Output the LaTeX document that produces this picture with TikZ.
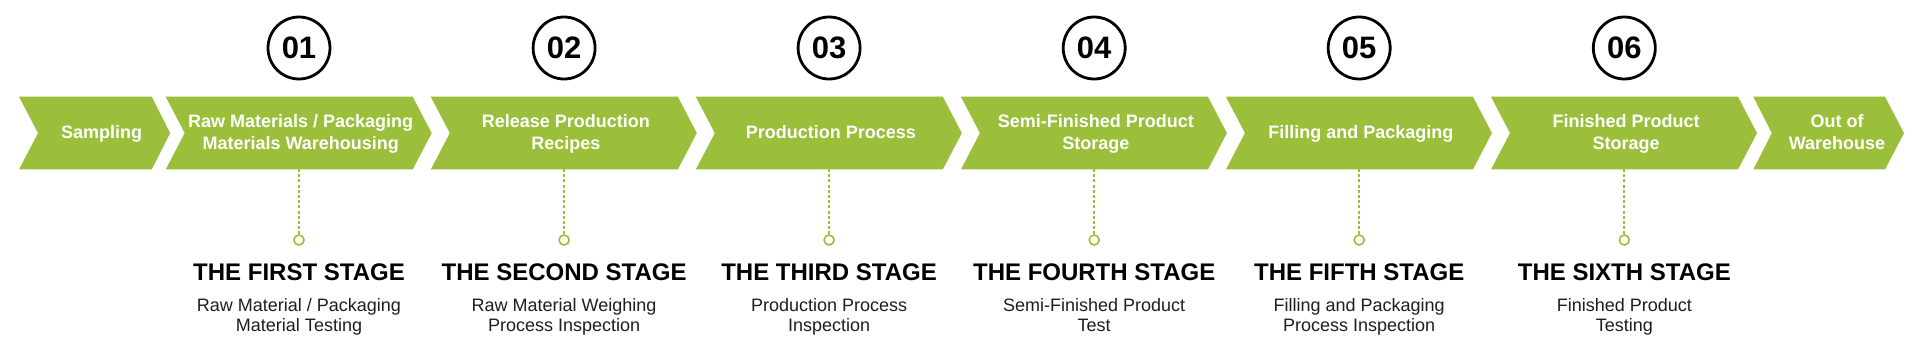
\documentclass[tikz,border=0pt]{standalone}
\usepackage{fontspec}
\setmainfont{Liberation Sans}
\definecolor{chev}{RGB}{155,191,58}
\definecolor{desctext}{RGB}{30,30,30}
\newcommand\mystrut{\rule[-4pt]{0pt}{14pt}}
\tikzset{
  chevfill/.style={fill=chev},
  chevlabel/.style={text=white, font=\bfseries\fontsize{18}{22}\selectfont, align=center, inner sep=0pt},
  numcircle/.style={circle, draw=black, line width=2.8pt, minimum size=62pt, inner sep=0pt, font=\bfseries\fontsize{31}{31}\selectfont},
  ring/.style={circle, draw=chev, line width=1.6pt, minimum size=10pt, inner sep=0pt, fill=white},
  dashlink/.style={draw=chev, line width=2pt, dash pattern=on 3pt off 2.2pt},
  stagetitle/.style={font=\bfseries\fontsize{24}{24}\selectfont, inner sep=0pt, anchor=base},
  stagedesc/.style={text=desctext, font=\fontsize{18}{19.6}\selectfont, align=center, inner sep=0pt, anchor=north}
}
\newcommand\stagegroup[5]{%
  \fill[chevfill] (#2,96.7) -- ++(247,0) -- ++(19,36.4) -- ++(-19,36.4) -- ++(-247,0) -- ++(19,-36.4) -- cycle;
  \node[chevlabel] (c#1) at (#2+135,134) {#3};
  \coordinate (b#1) at (#2+133.3,169.1);
  \node[numcircle] (n#1) at (#2+133.3,48) {0#1};
  \node[ring] (r#1) at (#2+133.3,240) {};
  \draw[dashlink] (b#1) -- (r#1.north);
  \node[stagetitle] (t#1) at (#2+133.3,280.7) {#4};
  \node[stagedesc] (d#1) at (#2+133.3,298.7) {#5};
}
\begin{document}
\begin{tikzpicture}[x=1pt,y=-1pt]
\useasboundingbox (0,0) rectangle (1920,347);
\fill[white] (0,0) rectangle (1920,347);
% first and last chevrons
\fill[chevfill] (19,96.7) -- ++(132.7,0) -- ++(18.5,36.4) -- ++(-18.5,36.4) -- ++(-132.7,0) -- ++(19,-36.4) -- cycle;
\node[chevlabel] (c0) at (101.7,134) {\mystrut Sampling};
\fill[chevfill] (1753.3,96.7) -- ++(131.7,0) -- ++(19,36.4) -- ++(-19,36.4) -- ++(-131.7,0) -- ++(18.5,-36.4) -- cycle;
\node[chevlabel] (c7) at (1837,134) {\mystrut Out of\\\mystrut Warehouse};
% stages
\stagegroup{1}{165.7}{\mystrut Raw Materials / Packaging\\\mystrut Materials Warehousing}{THE FIRST STAGE}{\mystrut Raw Material / Packaging\\\mystrut Material Testing}
\stagegroup{2}{430.8}{\mystrut Release Production\\\mystrut Recipes}{THE SECOND STAGE}{\mystrut Raw Material Weighing\\\mystrut Process Inspection}
\stagegroup{3}{695.8}{\mystrut Production Process}{THE THIRD STAGE}{\mystrut Production Process\\\mystrut Inspection}
\stagegroup{4}{960.9}{\mystrut Semi-Finished Product\\\mystrut Storage}{THE FOURTH STAGE}{\mystrut Semi-Finished Product\\\mystrut Test}
\stagegroup{5}{1225.9}{\mystrut Filling and Packaging}{THE FIFTH STAGE}{\mystrut Filling and Packaging\\\mystrut Process Inspection}
\stagegroup{6}{1491}{\mystrut Finished Product\\\mystrut Storage}{THE SIXTH STAGE}{\mystrut Finished Product\\\mystrut Testing}
\end{tikzpicture}
\end{document}
